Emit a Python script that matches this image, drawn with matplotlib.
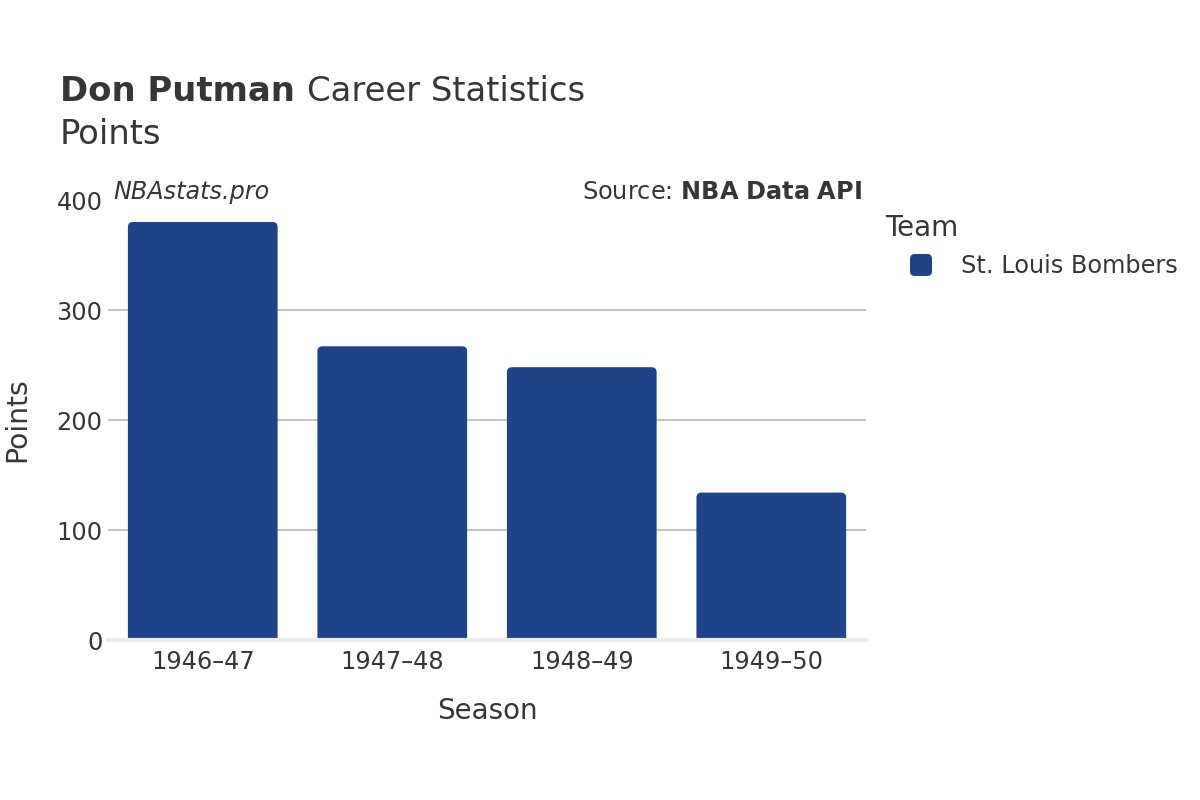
import matplotlib
matplotlib.use("Agg")
import matplotlib.pyplot as plt
from matplotlib.patches import FancyBboxPatch

seasons = ["1946–47", "1947–48", "1948–49", "1949–50"]
points = [380, 267, 248, 134]
team = "St. Louis Bombers"
yticks = [0, 100, 200, 300, 400]

BAR = "#1f4388"
TXT = "#363636"

plt.rcParams['font.family'] = ['DejaVu Sans']
fig = plt.figure(figsize=(12, 8), dpi=100)
ax = fig.add_axes([0.09, 0.2, 0.6317, 0.55])

ax.set_xlim(-0.5, len(seasons) - 0.5)
ax.set_ylim(0, 400)

ax_w_px = 0.6317 * 1200
ax_h_px = 0.55 * 800
x_per_px = len(seasons) / ax_w_px
y_per_px = 400 / ax_h_px
r_px = 5
width = 0.79
for i, v in enumerate(points):
    p = FancyBboxPatch((i - width / 2, -20), width, v + 20,
                       boxstyle=f"round,pad=0,rounding_size={r_px * x_per_px}",
                       mutation_aspect=y_per_px / x_per_px,
                       facecolor=BAR, edgecolor="none", zorder=3)
    ax.add_patch(p)

for t in yticks[1:-1]:
    ax.axhline(t, color="#bdbdbd", lw=1.3, zorder=1)
ax.axhline(0, color="#ebebeb", lw=3, zorder=4, clip_on=False)

for s in ax.spines.values():
    s.set_visible(False)
ax.set_xticks(range(len(seasons)))
ax.set_xticklabels(seasons)
ax.set_yticks(yticks)
ax.tick_params(axis='both', length=0, labelsize=17.3, colors=TXT)
ax.tick_params(axis='x', pad=7)
ax.tick_params(axis='y', pad=4)

ax.set_xlabel("Season", fontsize=20, color=TXT, labelpad=17)
ax.set_ylabel("Points", fontsize=20.3, color=TXT, va="center")
ax.yaxis.set_label_coords((17 - 108) / ax_w_px, 0.5)

t1 = fig.text(60 / 1200, 1 - 101 / 800, "Don Putman", fontsize=24.4, fontweight="bold",
              color=TXT, ha="left", va="baseline")
fig.canvas.draw()
bb = t1.get_window_extent(renderer=fig.canvas.get_renderer())
fig.text((bb.x1 + 12) / 1200, 1 - 101 / 800, "Career Statistics", fontsize=24.4, color=TXT,
         ha="left", va="baseline")
fig.text(60 / 1200, 1 - 144 / 800, "Points", fontsize=24.4, color=TXT,
         ha="left", va="baseline")

fig.text(113 / 1200, 1 - 199 / 800, "NBAstats.pro", fontsize=17.2, style="italic",
         color=TXT, ha="left", va="baseline")
fig.text(862 / 1200, 1 - 199 / 800, r"Source: $\bf{NBA\ Data\ API}$", fontsize=17.3,
         color=TXT, ha="right", va="baseline")

# legend
fig.text(885 / 1200, 1 - 236 / 800, "Team", fontsize=20, color=TXT,
         ha="left", va="baseline")
leg = FancyBboxPatch((910 / 1200, 1 - 276 / 800), 22 / 1200, 22 / 800,
                     boxstyle="round,pad=0,rounding_size=0.004",
                     mutation_aspect=1.5,
                     transform=fig.transFigure, facecolor=BAR, edgecolor="none")
fig.patches.append(leg)
fig.text(961 / 1200, 1 - 266 / 800, team, fontsize=17.3, color=TXT,
         ha="left", va="center")

fig.savefig("out.png", dpi=100)
